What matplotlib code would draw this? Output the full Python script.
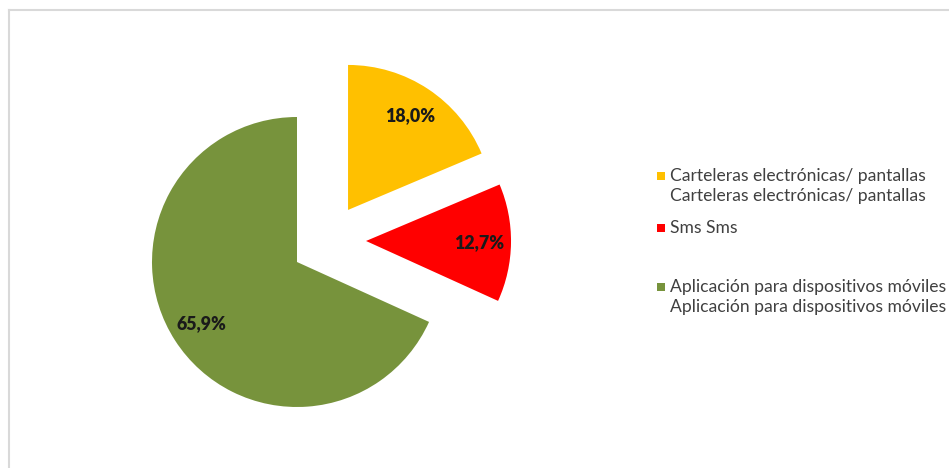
import numpy as np
import matplotlib
matplotlib.use("Agg")
import matplotlib.pyplot as plt
from matplotlib.lines import Line2D
from matplotlib.patches import Rectangle

# Data
categories = [
    "Carteleras electrónicas/ pantallas",
    "Sms",
    "Aplicación para dispositivos móviles",
]
legend_labels = [
    "Carteleras electrónicas/ pantallas\nCarteleras electrónicas/ pantallas",
    "Sms Sms",
    "Aplicación para dispositivos móviles\nAplicación para dispositivos móviles",
]
values = [18.0, 12.7, 65.9]
value_labels = ["18,0%", "12,7%", "65,9%"]
colors = ["#FFC000", "#FF0000", "#77933C"]

# Where each slice is pulled out to (in units of the pie radius)
slice_centers = [(0.352, 0.359), (0.476, 0.145), (0.0, 0.0)]

W, H, DPI = 949, 468, 100
fig = plt.figure(figsize=(W / DPI, H / DPI), dpi=DPI)
fig.patch.set_facecolor("white")

FONT = ["Lato", "DejaVu Sans"]

# Axes placed so that one data unit equals one pie radius (145 px)
px_per_unit = 145.0
cx, cy = 297.0, 262.0          # pie centre in pixels (from top-left)
ax_l, ax_r, ax_t, ax_b = 100, 600, 20, 460
ax = fig.add_axes([ax_l / W, (H - ax_b) / H, (ax_r - ax_l) / W, (ax_b - ax_t) / H])

wedges, _ = ax.pie(values, colors=colors, startangle=90, counterclock=False,
                   radius=1.0, wedgeprops=dict(linewidth=0))

for w, (dx, dy), lab in zip(wedges, slice_centers, value_labels):
    w.set_center((dx, dy))
    mid = np.deg2rad((w.theta1 + w.theta2) / 2.0)
    r = 0.78
    ax.text(dx + r * np.cos(mid), dy + r * np.sin(mid), lab,
            ha="center", va="center", fontsize=12.8, fontweight="heavy",
            color="#1a1a1a", family=FONT)

ax.set_xlim((ax_l - cx) / px_per_unit, (ax_r - cx) / px_per_unit)
ax.set_ylim((cy - ax_b) / px_per_unit, (cy - ax_t) / px_per_unit)
ax.set_aspect("auto")
ax.axis("off")

# Legend, drawn entry by entry in figure pixels
def fx(x):
    return x / W

def fy(y):
    return (H - y) / H

entry_rows = [(176, 196), (228,), (287, 307)]
marker_size = 8
for label, color, rows in zip(legend_labels, colors, entry_rows):
    fig.add_artist(Rectangle((fx(657), fy(rows[0] + marker_size / 2)),
                             marker_size / W, marker_size / H,
                             transform=fig.transFigure, facecolor=color,
                             edgecolor="none"))
    for line, y in zip(label.split("\n"), rows):
        fig.text(fx(670), fy(y), line, ha="left", va="center",
                 fontsize=12.6, color="#404040", family=FONT)

# Thin outline along the top and left of the chart area
fig.add_artist(Line2D([fx(8.5), 1.0], [fy(10), fy(10)], color="#d9d9d9",
                      linewidth=1.5, transform=fig.transFigure))
fig.add_artist(Line2D([fx(8.5), fx(8.5)], [fy(10), 0.0], color="#d9d9d9",
                      linewidth=1.5, transform=fig.transFigure))

fig.savefig("out.png", dpi=DPI, facecolor="white")
